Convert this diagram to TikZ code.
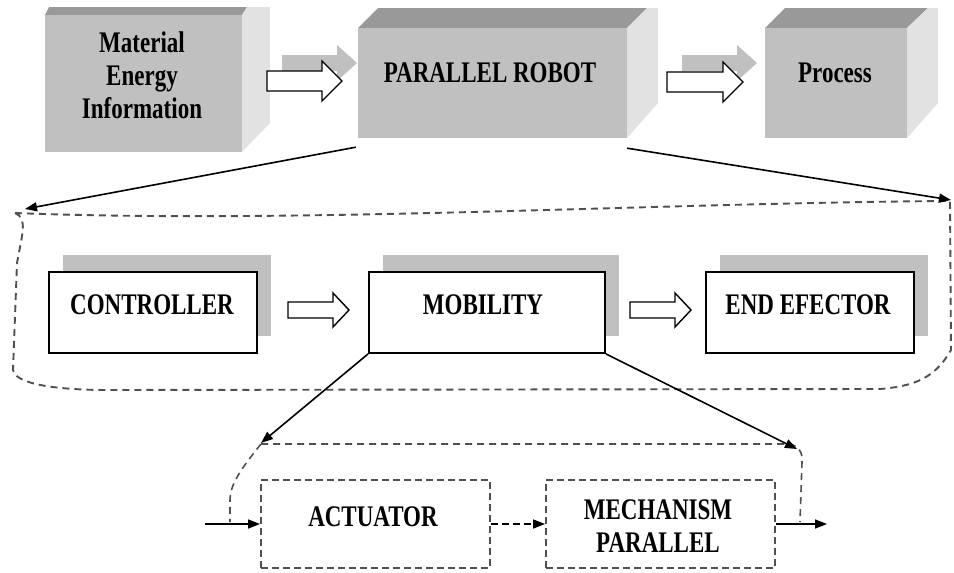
\documentclass[tikz,border=0pt]{standalone}
\usepackage{fontspec}
\setmainfont{Liberation Serif}
\usetikzlibrary{arrows.meta}
\definecolor{frontgray}{HTML}{C0C0C0}
\definecolor{topgray}{HTML}{999999}
\definecolor{sidegray}{HTML}{E2E2E2}
\definecolor{dashgray}{HTML}{505050}
\newcommand\blkarrow[7]{\path[#1] (#2,#4-#6) -- (#5,#4-#6) -- (#5,#4-#7) -- (#3,#4) -- (#5,#4+#7) -- (#5,#4+#6) -- (#2,#4+#6) -- cycle;}
\tikzset{
  lbl/.style={font=\fontsize{23}{25.5}\selectfont\bfseries, yscale=1.3, align=center, inner sep=0pt},
  front/.style={fill=frontgray, inner sep=0pt},
  plainbox/.style={draw, line width=1.8pt, fill=white, inner sep=0pt},
  dashbox/.style={draw=dashgray, line width=1.9pt, dash pattern=on 7pt off 4pt, inner sep=0pt},
  outline/.style={draw=dashgray, line width=1.9pt, dash pattern=on 7pt off 5pt},
  link/.style={line width=1.6pt, -{Triangle[length=12pt,width=9pt]}},
  barrow/.style={draw, line width=1.4pt, fill=white},
  bshadow/.style={fill=frontgray}
}
\begin{document}
\begin{tikzpicture}[x=1pt,y=-1pt]
\path[use as bounding box] (0,0) rectangle (954,573);

% ---------- top row 3D boxes ----------
\fill[topgray] (45,15) -- (49,7) -- (247,7) -- (242,15) -- cycle;
\fill[sidegray] (242,15) -- (247,7) -- (270,7) -- (270,123) -- (242,152) -- cycle;
\node[front, minimum width=197pt, minimum height=137pt] (b1) at (143.5,83.5) {};

\fill[topgray] (358,28) -- (378,8) -- (647,8) -- (627,28) -- cycle;
\fill[sidegray] (627,28) -- (647,8) -- (658,8) -- (658,103) -- (627,138) -- cycle;
\node[front, minimum width=269pt, minimum height=110pt] (b2) at (492.5,83) {};

\fill[topgray] (765,28) -- (785,8) -- (928,8) -- (907,28) -- cycle;
\fill[sidegray] (907,28) -- (928,8) -- (938,8) -- (938,103) -- (907,138) -- cycle;
\node[front, minimum width=142pt, minimum height=110pt] (b3) at (836,83) {};

\node[lbl] (t1) at (142,75) {Material\\Energy\\Information};
\node[lbl] (t2) at (490,73) {PARALLEL ROBOT};
\node[lbl] (t3) at (835,73) {Process};

% top block arrows
\blkarrow{bshadow}{282}{357}{63}{337}{8}{18}
\blkarrow{barrow}{267}{342}{81}{322}{10}{20}
\blkarrow{bshadow}{682}{757}{63}{737}{8}{18}
\blkarrow{barrow}{667}{743}{82}{723}{10}{20}

% ---------- second row ----------
\fill[frontgray] (63,255) rectangle (271,336);
\fill[frontgray] (383,255) rectangle (619,336);
\fill[frontgray] (720,255) rectangle (928,336);
\node[plainbox, minimum width=208pt, minimum height=81pt] (ctrl) at (153,312.5) {};
\node[plainbox, minimum width=236pt, minimum height=81pt] (mob) at (487,312.5) {};
\node[plainbox, minimum width=208pt, minimum height=81pt] (ee) at (810,312.5) {};
\node[lbl] (tc) at (152,305) {CONTROLLER};
\node[lbl] (tm) at (483,305) {MOBILITY};
\node[lbl] (te) at (808,305) {END EFECTOR};

\blkarrow{barrow}{288}{349}{310}{333}{8}{17}
\blkarrow{barrow}{630}{691}{310}{675}{8}{17}

% dashed outline of row 2
\path[outline] (15,213) .. controls (300,224) and (650,203) .. (950,201)
  -- (951,350) .. controls (935,378) and (915,386) .. (880,389)
  -- (100,390) .. controls (40,389) and (15,381) .. (13,370)
  -- (17,263) .. controls (22,235) and (28,218) .. (15,213);

\coordinate (tl) at (25,209);
\coordinate (tr) at (951,200);
\draw[link] ([xshift=-2pt,yshift=-9pt]b2.south west) -- (tl);
\draw[link] ([yshift=-10pt]b2.south east) -- (tr);

% ---------- bottom row ----------
\node[dashbox, minimum width=229pt, minimum height=88pt] (act) at (375.5,524) {};
\node[dashbox, minimum width=229pt, minimum height=88pt] (mech) at (660.5,524) {};
\node[lbl] (ta) at (373,517) {ACTUATOR};
\node[lbl] (tmp) at (658,526) {MECHANISM\\PARALLEL};

\coordinate (al) at (261,443);
\coordinate (ar) at (797,449);
\path[outline, line width=1.6pt] (261,444) -- (790,444) .. controls (798,446) and (803,452) .. (802,462) -- (800,522);
\path[outline, line width=1.6pt] (261,444) .. controls (240,470) and (230,485) .. (230,500) -- (230,522);

\draw[link] (mob.south west) -- (al);
\draw[link] (mob.south east) -- (ar);

\coordinate (in) at (205,524);
\coordinate (out) at (827,524);
\draw[link] (in) -- (act.west);
\draw[link] (mech.east) -- (out);
\draw[link, dash pattern=on 7pt off 4pt] (act.east) -- (mech.west);
\end{tikzpicture}
\end{document}
